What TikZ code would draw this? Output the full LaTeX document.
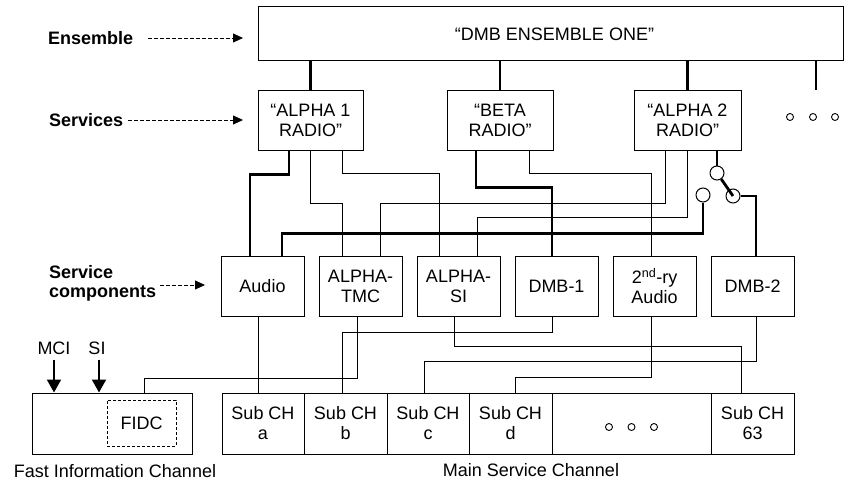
\documentclass[tikz,border=0pt]{standalone}
\usepackage{fontspec}
\setmainfont{Liberation Sans}
\usetikzlibrary{arrows.meta}
\begin{document}
\begin{tikzpicture}[x=1pt,y=-1pt,
  box/.style={draw,line width=1pt,rectangle,inner sep=0pt,align=center,font=\fontsize{18}{20}\selectfont},
  thn/.style={line width=0.9pt},
  thk/.style={line width=2.8pt},
  lab/.style={inner sep=0pt,font=\fontsize{18}{19}\selectfont\bfseries,align=left},
  txt/.style={inner sep=0pt,font=\fontsize{18}{20}\selectfont},
  dasharr/.style={line width=0.8pt,dash pattern=on 3.5pt off 2.5pt,-{Triangle[length=10pt,width=9pt]}},
  solarr/.style={line width=2pt,-{Triangle[length=13pt,width=14pt]}},
  sw/.style={circle,draw,line width=1pt,minimum size=14pt,inner sep=0pt},
  dotc/.style={circle,draw,line width=0.9pt,minimum size=7pt,inner sep=0pt}
]
\useasboundingbox (0,0) rectangle (845,484);

% ensemble
\node[box,minimum width=585pt,minimum height=54pt] (ens) at (550.5,34) {\hspace*{8pt}“DMB ENSEMBLE ONE”};

% services
\node[box,minimum width=105pt,minimum height=59pt] (a1) at (310.5,120.5) {“ALPHA 1\\RADIO”};
\node[box,minimum width=106pt,minimum height=59pt] (beta) at (500,120.5) {“BETA\\RADIO”};
\node[box,minimum width=107pt,minimum height=59pt] (a2) at (687.5,120.5) {“ALPHA 2\\RADIO”};

% components
\node[box,minimum width=83pt,minimum height=60pt] (audio) at (262.5,286) {Audio};
\node[box,minimum width=83pt,minimum height=60pt] (tmc) at (360.5,286) {ALPHA-\\TMC};
\node[box,minimum width=83pt,minimum height=60pt] (si) at (458.5,286) {ALPHA-\\SI};
\node[box,minimum width=83pt,minimum height=60pt] (dmb1) at (556.5,286) {DMB-1};
\node[box,minimum width=83pt,minimum height=60pt] (sec) at (654.5,286) {2\textsuperscript{nd}-ry\\Audio};
\node[box,minimum width=83pt,minimum height=60pt] (dmb2) at (752.5,286) {DMB-2};

% sub channels
\node[box,minimum width=82pt,minimum height=61pt] (suba) at (263,423.5) {Sub CH\\a};
\node[box,minimum width=83pt,minimum height=61pt] (subb) at (345.5,423.5) {Sub CH\\b};
\node[box,minimum width=82pt,minimum height=61pt] (subc) at (428,423.5) {Sub CH\\c};
\node[box,minimum width=83pt,minimum height=61pt] (subd) at (510.5,423.5) {Sub CH\\d};
\node[box,minimum width=159pt,minimum height=61pt] (subx) at (631.5,423.5) {};
\node[box,minimum width=83pt,minimum height=61pt] (sub63) at (752.5,423.5) {Sub CH\\63};
\node[dotc] (bd1) at (609,427) {};
\node[dotc] (bd2) at (631.5,427) {};
\node[dotc] (bd3) at (654,427) {};

% FIC
\node[box,minimum width=160pt,minimum height=61pt] (fic) at (112,423.5) {};
\node[box,dash pattern=on 3pt off 2pt,minimum width=69pt,minimum height=46pt] (fidc) at (141.5,423) {FIDC};

% labels
\node[lab,anchor=west] (ensl) at (48,38) {Ensemble};
\node[lab,anchor=west] (srvl) at (49,120) {Services};
\node[lab,anchor=west] (cmpl) at (49,283) {Service\\components};
\coordinate (enstip) at (243,38);
\coordinate (srvtip) at (243,120);
\coordinate (cmptip) at (205,285);
\draw[dasharr] ([xshift=15pt]ensl.east) -- (enstip);
\draw[dasharr] ([xshift=5pt]srvl.east) -- (srvtip);
\draw[dasharr] (160,285) -- (cmptip);

\node[txt] (fasl) at (115,471) {Fast Information Channel};
\node[txt] (mscl) at (531,470) {Main Service Channel};
\node[txt] (mci) at (54,348) {MCI};
\node[txt] (sil) at (97,348) {SI};
\draw[solarr] ([yshift=-5pt]mci.south) -- (mci.south |- fic.north);
\draw[solarr] ([yshift=-5pt,xshift=2pt]sil.south) -- ([xshift=2pt]sil.south |- fic.north);

% ensemble to services
\draw[thk] (ens.south -| a1.north) -- (a1.north);
\draw[thk] (ens.south -| beta.north) -- (beta.north);
\draw[thk] (ens.south -| a2.north) -- (a2.north);
\coordinate (more) at (816,90);
\draw[thk] (ens.south -| more) -- (more);
\node[dotc] (td1) at (790,117) {};
\node[dotc] (td2) at (813,117) {};
\node[dotc] (td3) at (835,117) {};

% services to components
\draw[thk] ([xshift=-21.5pt]a1.south) -- ++(0,24) -| ([xshift=-12.5pt]audio.north);
\draw[thn] (a1.south) -- ++(0,53) -| ([xshift=-18.5pt]tmc.north);
\draw[thn] ([xshift=31.5pt]a1.south) -- ++(0,23) -| ([xshift=-19.5pt]si.north);
\draw[thk] ([xshift=-24pt]beta.south) -- ++(0,37) -| ([xshift=-4.5pt]dmb1.north);
\draw[thn] ([xshift=29pt]beta.south) -- ++(0,23) -| ([xshift=-3.5pt]sec.north);
\draw[thn] ([xshift=-22.5pt]a2.south) -- ++(0,53) -| ([xshift=19.5pt]tmc.north);
\draw[thn] (a2.south) -- ++(0,67) -| ([xshift=18.5pt]si.north);

% switch
\node[sw] (sw1) at (717,173) {};
\node[sw] (sw2) at (733,196) {};
\node[sw] (sw3) at (703,195) {};
\draw[thk] ([xshift=29.5pt]a2.south) -- (sw1.north);
\draw[thk] (sw1) -- (sw2.center);
\draw[thk] (sw2.east) -| ([xshift=3.5pt]dmb2.north);
\draw[thk] (sw3.south) -- ++(0,31) -| ([xshift=19.5pt]audio.north);

% components to sub channels
\draw[thn] ([xshift=-4.5pt]audio.south) -- ([xshift=-5pt]suba.north);
\draw[thn] ([xshift=-3.5pt]tmc.south) -- ++(0,62) -| ([xshift=32pt]fic.north);
\draw[thn] ([xshift=-4.5pt]dmb1.south) -- ++(0,16) -| ([xshift=-3.5pt]subb.north);
\draw[thn] ([xshift=-4.5pt]si.south) -- ++(0,30) -| ([xshift=-11.5pt]sub63.north);
\draw[thn] ([xshift=3.5pt]dmb2.south) -- ++(0,45) -| ([xshift=-4pt]subc.north);
\draw[thn] ([xshift=-3.5pt]sec.south) -- ++(0,61) -| ([xshift=4.5pt]subd.north);
\end{tikzpicture}
\end{document}
